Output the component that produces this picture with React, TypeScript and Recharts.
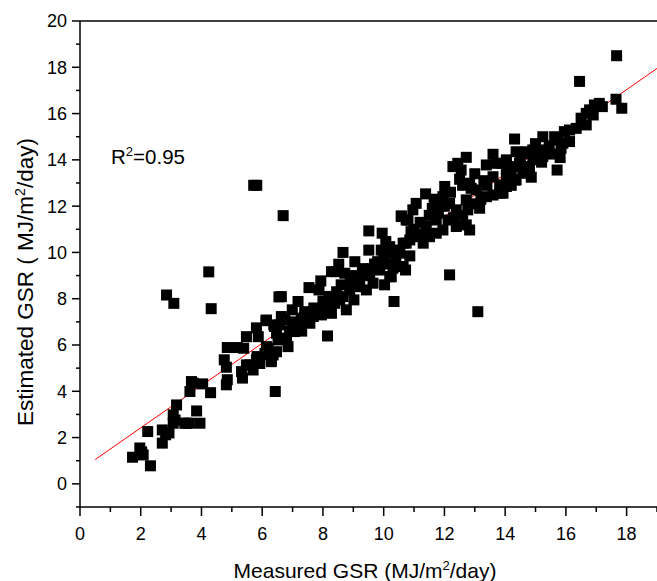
import { ScatterChart, Scatter, XAxis, YAxis, ReferenceLine, Customized } from 'recharts'

const measured = [
  1.73, 1.97, 2.08, 2.03, 2.32, 2.23, 2.71, 2.71, 2.82, 2.93, 3.07, 3.07, 3.13, 3.18, 3.45, 3.51, 3.6, 3.95, 3.84, 3.62,
  3.67, 3.73, 4.04, 4.3, 2.85, 3.09, 4.24, 4.32, 4.75, 4.82, 4.82, 4.85, 4.85, 5.18, 5.39, 5.32, 5.35, 5.48, 5.59, 5.7,
  5.81, 5.83, 5.48, 5.87, 5.81, 6.12, 6.38, 6.2, 6.47, 6.2, 6.3, 6.43, 6.55, 5.72, 5.82, 6.69, 5.92, 6.09, 6.47, 6.58,
  6.74, 6.63, 6.14, 6.63, 6.41, 6.52, 6.85, 6.14, 6.36, 6.3, 7.02, 7.07, 7.18, 6.99, 7.4, 7.24, 7.3, 7.29, 7.51, 7.57,
  7.68, 7.84, 7.95, 8.11, 8.28, 8.15, 8.39, 8.55, 8.77, 9.02, 8.66, 8.88, 7.54, 7.87, 7.93, 8.28, 8.44, 8.52, 8.72, 8.66,
  9.05, 9.21, 9.43, 9.65, 10.03, 10.2, 9.87, 9.54, 9.21, 10.31, 10.53, 10.72, 10.34, 10.53, 10.4, 9.51, 9.92, 10.2, 10.07, 9.95,
  9.51, 10.74, 10.58, 10.74, 8.2, 8.45, 8.9, 9.1, 9.35, 9.6, 9.8, 10.0, 10.15, 9.7, 9.3, 8.95, 8.6, 8.3, 8.0, 7.7,
  7.4, 7.1, 6.9, 6.8,
  14.31, 13.6, 12.72, 12.44, 12.28, 12.55, 13.38, 13.7, 14.04, 14.36, 14.64, 14.69, 14.36, 14.04, 13.6, 13.82, 12.5, 12.01, 11.38, 11.66,
  11.07, 10.96, 10.58, 10.8, 11.95, 12.88, 13.05, 12.72, 13.16, 13.38, 13.6, 13.93, 14.2, 12.77, 12.39, 12.17, 12.12, 11.73, 12.72, 12.83,
  12.39, 11.95, 11.73, 11.4, 11.51, 11.18, 10.86, 10.64, 10.42, 10.25, 10.64, 10.25, 12.17, 13.1, 10.86, 11.3, 12.83, 12.0, 11.0, 11.2,
  11.5, 11.8, 12.3, 12.6, 12.9, 13.2, 13.4, 13.0, 12.2, 11.9, 11.6, 10.9, 11.3, 12.6, 13.3,
  17.67, 16.45, 17.65, 17.84, 17.1, 16.94, 17.2, 16.78, 16.67, 16.5, 16.9, 16.67, 16.34, 16.12, 15.95, 15.63, 15.74, 15.9, 16.12, 15.84,
  15.81, 15.71, 15.24, 15.24, 15.24, 14.91, 14.69, 14.04, 13.87, 14.91, 14.8, 14.47, 14.25, 14.04, 14.58, 14.86, 14.31, 14.04, 13.82, 15.2,
  15.45, 15.5, 15.0, 14.5, 14.2,
]
const estimated = [
  1.15, 1.55, 1.25, 1.38, 0.78, 2.26, 1.76, 2.33, 2.12, 2.2, 2.98, 2.62, 2.76, 3.41, 2.62, 2.62, 2.62, 2.62, 3.15, 3.99,
  4.42, 4.35, 4.32, 3.94, 8.16, 7.8, 9.16, 7.57, 5.36, 5.04, 4.28, 4.5, 5.89, 5.89, 5.86, 4.85, 4.57, 5.14, 5.14, 4.92,
  5.36, 5.5, 6.36, 6.36, 6.74, 7.05, 6.87, 5.86, 5.71, 5.57, 5.36, 3.99, 8.08, 12.9, 12.9, 11.59, 5.2, 5.64, 6.51, 6.87,
  7.08, 8.09, 7.08, 7.23, 6.8, 6.22, 5.93, 5.93, 5.57, 5.28, 7.0, 6.58, 7.88, 7.52, 7.44, 6.8, 6.6, 7.16, 7.3, 6.94,
  7.23, 7.52, 7.3, 7.66, 7.37, 6.39, 7.8, 7.95, 7.52, 7.95, 8.09, 8.38, 8.48, 8.38, 8.77, 9.17, 9.17, 9.49, 9.1, 10.0,
  9.6, 8.52, 8.38, 8.67, 8.6, 8.95, 9.24, 9.1, 8.95, 9.32, 9.39, 9.24, 7.88, 9.97, 9.7, 10.1, 10.1, 10.25, 10.47, 10.83,
  10.93, 10.4, 11.58, 11.4, 8.1, 8.3, 8.7, 8.8, 9.0, 9.3, 9.6, 9.8, 9.5, 9.5, 9.3, 9.0, 8.6, 8.0, 7.9, 7.6,
  7.2, 6.9, 6.6, 6.3,
  14.9, 14.24, 14.11, 13.85, 13.71, 13.56, 13.78, 13.85, 13.92, 14.35, 14.28, 13.71, 13.13, 13.27, 13.27, 12.92, 13.16, 12.85, 12.53, 12.3,
  12.12, 11.84, 11.55, 11.4, 12.41, 12.77, 12.7, 12.27, 11.91, 12.41, 12.48, 12.56, 12.9, 11.84, 11.84, 12.12, 11.4, 11.4, 11.19, 10.97,
  11.12, 10.97, 10.83, 11.12, 10.68, 10.68, 10.54, 10.4, 10.1, 9.97, 9.39, 8.95, 9.03, 7.44, 9.85, 10.4, 12.99, 12.0, 11.0, 11.3,
  11.6, 11.7, 11.5, 11.6, 12.1, 12.3, 12.9, 13.4, 12.6, 12.0, 11.9, 10.9, 10.8, 12.9, 13.1,
  18.5, 17.39, 16.62, 16.23, 16.44, 16.37, 16.3, 16.16, 16.01, 15.8, 15.94, 15.51, 15.36, 15.29, 15.22, 15.0, 14.86, 14.72, 14.79, 14.5,
  14.1, 13.56, 15.0, 14.43, 14.14, 14.43, 14.35, 14.0, 13.85, 14.0, 13.71, 13.85, 13.71, 13.56, 13.42, 13.25, 13.13, 12.85, 12.56, 13.9,
  14.6, 14.25, 14.7, 14.1, 13.4,
]

const xTicks = [0, 1, 2, 3, 4, 5, 6, 7, 8, 9, 10, 11, 12, 13, 14, 15, 16, 17, 18, 19]
const yTicks = [-1, 0, 1, 2, 3, 4, 5, 6, 7, 8, 9, 10, 11, 12, 13, 14, 15, 16, 17, 18, 19, 20]
const fitLine = [
  { x: 0.5, y: 1.05 },
  { x: 19, y: 17.95 },
]
const rSquared = '0.95'

const points = measured.map((m, i) => ({ m, e: estimated[i] }))

const font = "'Liberation Sans', Arial, Helvetica, sans-serif"
const isMajor = (v: number) => v % 2 === 0

function BottomTick({ x, y, payload }: any) {
  const v = payload.value
  return (
    <g>
      <line x1={x} x2={x} y1={y} y2={y + (isMajor(v) ? 9 : 5)} stroke="#000" strokeWidth={1.5} />
      {isMajor(v) && (
        <text x={x} y={y + 33} textAnchor="middle" fontSize={18} fontFamily={font} fill="#000">
          {v}
        </text>
      )}
    </g>
  )
}

function TopTick({ x, y, payload }: any) {
  const v = payload.value
  return <line x1={x} x2={x} y1={y} y2={y + (isMajor(v) ? 9 : 5)} stroke="#000" strokeWidth={1.5} />
}

function LeftTick({ x, y, payload }: any) {
  const v = payload.value
  return (
    <g>
      <line x1={x} x2={x - (isMajor(v) ? 8 : 4)} y1={y} y2={y} stroke="#000" strokeWidth={1.5} />
      {isMajor(v) && v >= 0 && (
        <text x={x - 13} y={y} dy="0.36em" textAnchor="end" fontSize={18} fontFamily={font} fill="#000">
          {v}
        </text>
      )}
    </g>
  )
}

function RightTick({ x, y, payload }: any) {
  const v = payload.value
  return <line x1={x} x2={x - (isMajor(v) ? 8 : 4)} y1={y} y2={y} stroke="#000" strokeWidth={1.5} />
}

function Square(p: any) {
  return <rect x={p.cx - 5.5} y={p.cy - 5.5} width={11} height={11} fill="#000" />
}

function Texts() {
  return (
    <g fontFamily={font} fill="#000">
      <text x={365} y={578} textAnchor="middle" fontSize={21}>
        Measured GSR (MJ/m<tspan dy={-8} fontSize={13}>2</tspan>
        <tspan dy={8}>/day)</tspan>
      </text>
      <text x={0} y={0} transform="translate(33,282) rotate(-90)" textAnchor="middle" fontSize={22.5}>
        Estimated GSR ( MJ/m<tspan dy={-8} fontSize={14}>2</tspan>
        <tspan dy={8}>/day)</tspan>
      </text>
      <text x={111} y={164} fontSize={20.5}>
        R<tspan dy={-8} fontSize={13}>2</tspan>
        <tspan dy={8}>={rSquared}</tspan>
      </text>
    </g>
  )
}

export default function App() {
  return (
    <div style={{ position: 'absolute', left: 0, top: 0, background: '#fff' }}>
      <ScatterChart width={657} height={581} margin={{ top: 20, right: -1, bottom: 0, left: 0 }}>
        <XAxis
          xAxisId="b"
          type="number"
          dataKey="m"
          domain={[0, 19]}
          ticks={xTicks}
          interval={0}
          height={74}
          tickSize={0}
          tickMargin={0}
          tick={<BottomTick />}
          axisLine={{ stroke: '#000', strokeWidth: 1.5 }}
        />
        <XAxis
          xAxisId="t"
          orientation="top"
          type="number"
          dataKey="m"
          domain={[0, 19]}
          ticks={xTicks}
          interval={0}
          height={1}
          tickSize={0}
          tickMargin={0}
          tick={<TopTick />}
          axisLine={{ stroke: '#000', strokeWidth: 1.5 }}
        />
        <YAxis
          yAxisId="l"
          type="number"
          dataKey="e"
          domain={[-1, 20]}
          ticks={yTicks}
          interval={0}
          width={80}
          tickSize={0}
          tickMargin={0}
          tick={<LeftTick />}
          axisLine={{ stroke: '#000', strokeWidth: 1.5 }}
        />
        <YAxis
          yAxisId="r"
          orientation="right"
          type="number"
          dataKey="e"
          domain={[-1, 20]}
          ticks={yTicks}
          interval={0}
          width={1}
          tickSize={0}
          tickMargin={0}
          tick={<RightTick />}
          axisLine={false}
        />
        <Scatter xAxisId="b" yAxisId="l" data={points} shape={Square} isAnimationActive={false} />
        <ReferenceLine xAxisId="b" yAxisId="l" segment={fitLine} stroke="#ff0000" strokeWidth={1} />
        <Customized component={Texts} />
      </ScatterChart>
    </div>
  )
}
